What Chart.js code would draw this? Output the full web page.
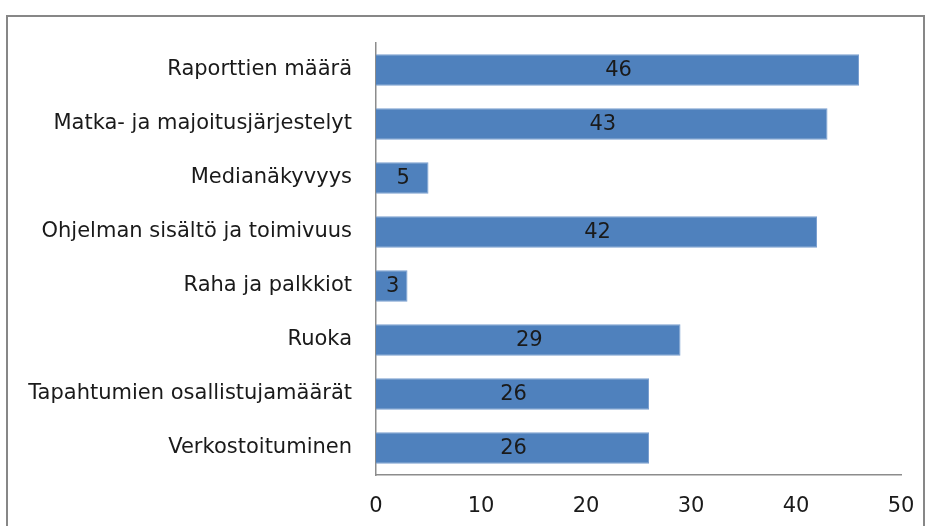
<!DOCTYPE html>
<html>
<head>
<meta charset="utf-8">
<script src="https://cdn.jsdelivr.net/npm/chart.js@4/dist/chart.umd.min.js"></script>
<style>
  html, body { margin: 0; padding: 0; background: #fff; overflow: hidden; }
  #wrap { position: relative; width: 929px; height: 526px; }
  #frame { position: absolute; left: 6px; top: 15px; width: 919px; height: 560px; border: 2px solid #878787; box-sizing: border-box; }
  #chart { position: absolute; left: 0; top: 0; }
</style>
</head>
<body>
<div id="wrap">
  <div id="frame"></div>
  <canvas id="chart" width="929" height="526"></canvas>
</div>
<script>
// kategoriat ja arvot
var categories = ["Raporttien määrä", "Matka- ja majoitusjärjestelyt", "Medianäkyvyys",
    "Ohjelman sisältö ja toimivuus", "Raha ja palkkiot", "Ruoka",
    "Tapahtumien osallistujamäärät", "Verkostoituminen"];
var values = [46, 43, 5, 42, 3, 29, 26, 26];
var xTicks = [0, 10, 20, 30, 40, 50];

var labelFont = { family: "'DejaVu Sans', sans-serif", size: 21 };

// arvot palkkien keskelle
var barValues = {
    id: 'barValues',
    afterDatasetsDraw: function(chart){
        var ctx = chart.ctx;
        var meta = chart.getDatasetMeta(0);
        ctx.save();
        ctx.font = labelFont.size + 'px ' + labelFont.family;
        ctx.fillStyle = '#1a1a1a';
        ctx.textAlign = 'center';
        ctx.textBaseline = 'middle';
        meta.data.forEach(function(bar, i){
            var p = bar.getProps(['x', 'y', 'base'], true);
            ctx.fillText(values[i], (p.x + p.base) / 2 + 1, p.y + 1);
        });
        ctx.restore();
    }
};

var ctx = document.getElementById("chart");
var chart = new Chart(ctx, {
    type: 'bar',
    data: {
        labels: categories,
        datasets: [{
            label: '',
            data: values,
            backgroundColor: '#4f81bd',
            borderColor: '#7a9fd0',
            borderWidth: 1,
            barPercentage: 0.58,
            categoryPercentage: 1
        }]
    },
    options: {
        indexAxis: 'y',
        responsive: false,
        animation: false,
        layout: { padding: { top: 43, right: 28, left: 0, bottom: 0 } },
        plugins: { legend: { display: false }, tooltip: { enabled: false } },
        scales: {
            x: {
                min: 0, max: 50,
                afterBuildTicks: function(scale){
                    scale.ticks = xTicks.map(function(v){ return { value: v }; });
                },
                afterFit: function(scale){
                    scale.height = 51;
                    scale.paddingLeft = 0;
                    scale.paddingRight = 0;
                },
                grid: { display: false, drawTicks: false },
                border: { display: true, color: '#8c8c8c', width: 1.5 },
                ticks: { color: '#1a1a1a', font: labelFont, padding: 19, maxRotation: 0 }
            },
            y: {
                afterFit: function(scale){ scale.width = 376; },
                grid: { display: false, drawTicks: false },
                border: { display: true, color: '#8c8c8c', width: 1.5 },
                ticks: { color: '#1a1a1a', font: labelFont, padding: 24 }
            }
        }
    },
    plugins: [barValues]
});
</script>
</body>
</html>
